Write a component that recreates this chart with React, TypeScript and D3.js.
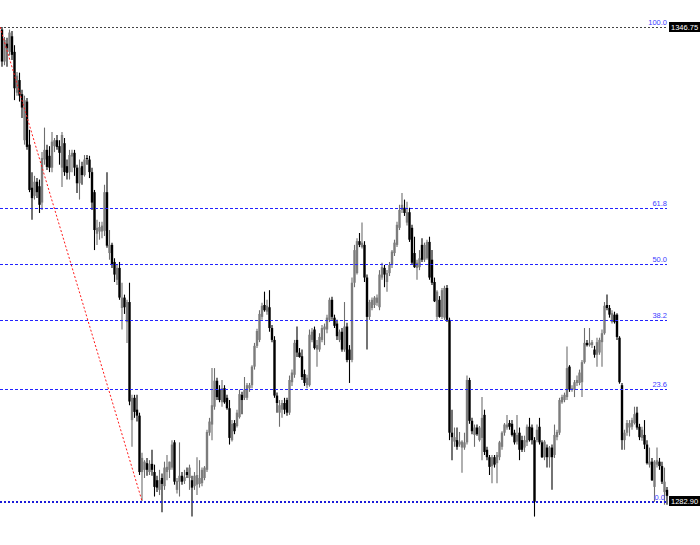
import React from 'react';
import * as d3 from 'd3';

const open = [
1346.4,1342.1,1344.5,1343.4,1345.5,1343.4,1337.9,1339.6,1337.7,1331.5,
1336.7,1330.9,1325.1,1324.0,1325.9,1325.3,1323.1,1328.9,1330.2,1329.4,
1327.8,1330.7,1331.5,1330.7,1327.8,1331.1,1328.0,1327.2,1329.3,1329.8,
1327.8,1325.7,1328.0,1326.8,1329.1,1328.9,1327.2,1324.5,1318.9,1319.2,
1319.2,1319.3,1324.5,1316.3,1317.4,1315.1,1312.7,1314.3,1308.9,1310.3,
1307.0,1309.7,1293.8,1296.8,1295.2,1294.4,1286.8,1287.1,1288.0,1286.8,
1287.9,1286.8,1285.7,1284.4,1286.0,1284.9,1286.8,1287.1,1287.4,1290.8,
1284.4,1285.5,1286.3,1285.6,1286.8,1286.0,1285.7,1284.9,1285.1,1285.2,
1285.3,1286.0,1287.1,1292.1,1293.2,1295.6,1299.1,1297.9,1296.2,1298.1,
1296.8,1295.4,1291.1,1293.4,1293.0,1294.2,1297.2,1296.8,1296.8,1298.1,
1298.5,1301.0,1303.8,1304.6,1307.7,1309.3,1308.4,1309.0,1306.2,1304.6,
1297.1,1294.8,1295.2,1296.1,1296.5,1294.8,1298.9,1299.9,1304.6,1302.9,
1302.4,1300.0,1298.5,1298.5,1304.6,1306.0,1303.3,1303.3,1304.6,1306.0,
1306.0,1307.3,1310.0,1307.6,1306.8,1304.6,1305.7,1303.3,1306.4,1303.3,
1301.9,1312.3,1313.6,1317.9,1317.1,1317.4,1313.0,1307.7,1308.9,1309.3,
1309.6,1309.0,1313.0,1314.3,1312.4,1313.6,1314.7,1316.3,1317.4,1319.7,
1322.1,1322.4,1320.4,1321.8,1319.7,1316.3,1314.3,1314.4,1317.4,1315.4,
1315.6,1317.8,1315.4,1312.4,1307.7,1310.0,1307.7,1307.6,1311.6,1307.3,
1292.1,1290.9,1291.1,1290.5,1290.1,1290.1,1290.8,1299.2,1293.7,1291.8,
1292.8,1291.1,1291.4,1294.5,1289.8,1288.8,1287.6,1288.8,1288.0,1288.8,
1290.2,1292.1,1292.8,1293.4,1293.3,1292.1,1290.9,1292.1,1291.1,1290.1,
1290.8,1292.9,1292.8,1291.1,1291.1,1292.9,1290.8,1288.8,1290.1,1288.8,
1290.1,1289.1,1291.5,1292.1,1296.2,1296.5,1296.9,1301.0,1297.9,1297.9,
1298.8,1298.8,1298.9,1301.6,1304.2,1303.9,1303.9,1303.3,1302.6,1302.9,
1304.3,1305.5,1309.3,1308.9,1307.0,1308.0,1308.0,1304.9,1298.5,1291.1,
1292.1,1292.8,1292.9,1293.4,1294.8,1292.9,1291.4,1291.8,1290.5,1287.8,
1288.2,1284.8,1287.8,1288.2,1287.6,1284.1,1284.4
];
const high = [
1346.75,1345.4,1345.3,1346.4,1346.2,1344.3,1340.7,1340.6,1338.3,1337.5,
1337.2,1332.9,1327.2,1326.7,1326.4,1326.2,1329.9,1333.2,1330.9,1330.7,
1332.6,1331.8,1332.2,1331.5,1332.6,1331.8,1328.9,1330.2,1330.2,1330.2,
1328.2,1328.9,1328.6,1329.5,1329.5,1329.4,1327.8,1324.8,1320.8,1320.5,
1320.5,1325.5,1327.2,1319.4,1317.7,1315.6,1314.7,1315.1,1312.3,1310.7,
1310.0,1312.3,1297.2,1297.2,1297.2,1294.8,1289.4,1288.4,1288.7,1288.4,
1289.8,1287.8,1286.3,1287.1,1286.6,1288.2,1289.1,1288.2,1291.1,1291.1,
1286.0,1290.8,1286.8,1287.1,1287.4,1287.8,1286.3,1286.8,1288.8,1288.4,
1287.4,1287.6,1292.5,1294.1,1300.8,1300.8,1299.5,1298.5,1299.2,1298.5,
1297.2,1296.5,1293.8,1293.8,1295.2,1297.9,1297.6,1299.6,1298.8,1298.8,
1301.2,1304.2,1306.1,1308.6,1309.6,1311.1,1310.0,1311.3,1306.6,1305.1,
1297.5,1296.5,1296.5,1296.8,1296.8,1299.8,1300.6,1304.6,1306.4,1303.5,
1303.3,1300.6,1299.9,1306.0,1306.2,1306.4,1304.6,1305.5,1306.6,1306.8,
1308.0,1310.3,1310.4,1308.0,1307.3,1306.0,1306.2,1309.7,1306.9,1303.9,
1313.0,1317.4,1318.3,1319.0,1320.4,1317.9,1313.4,1310.0,1310.3,1310.5,
1310.7,1314.0,1315.0,1314.7,1314.0,1315.1,1316.7,1318.1,1320.5,1322.8,
1324.4,1323.5,1323.2,1322.4,1320.1,1318.5,1315.4,1316.7,1318.3,1317.7,
1318.1,1318.5,1316.7,1313.0,1311.3,1310.5,1311.6,1311.9,1312.0,1307.6,
1295.2,1292.8,1292.8,1292.2,1291.1,1292.1,1299.8,1299.5,1294.1,1293.2,
1293.2,1293.0,1296.9,1295.2,1290.2,1289.1,1289.1,1289.1,1289.5,1291.0,
1292.3,1293.4,1294.5,1293.8,1293.8,1292.5,1294.5,1292.8,1291.7,1291.7,
1293.2,1294.1,1293.2,1291.5,1293.2,1294.1,1291.1,1291.1,1290.5,1290.3,
1290.5,1293.2,1292.5,1296.8,1297.2,1297.5,1303.7,1301.2,1298.5,1299.2,
1299.8,1300.6,1301.9,1306.2,1304.6,1306.2,1304.6,1303.8,1304.9,1304.9,
1306.0,1309.7,1310.7,1309.3,1308.6,1308.4,1308.2,1305.1,1298.8,1292.5,
1293.8,1293.8,1294.1,1295.6,1295.6,1293.3,1292.9,1293.8,1291.1,1290.1,
1288.7,1288.4,1290.1,1288.7,1288.2,1287.4,1284.8
];
const low = [
1341.4,1341.6,1341.4,1342.9,1342.3,1336.9,1337.5,1336.7,1334.5,1330.9,
1330.2,1324.5,1320.8,1323.5,1323.7,1321.7,1322.1,1328.2,1327.5,1327.2,
1327.2,1329.9,1330.2,1328.2,1325.2,1326.7,1326.2,1326.2,1327.2,1326.7,
1324.4,1323.5,1325.5,1326.6,1328.2,1326.4,1322.1,1316.7,1317.4,1318.1,
1318.3,1318.6,1317.0,1315.4,1314.3,1312.4,1312.0,1310.0,1306.0,1308.1,
1304.2,1295.8,1290.2,1294.1,1293.6,1286.4,1282.90,1286.0,1286.3,1286.4,
1286.3,1283.5,1284.1,1283.7,1281.4,1284.4,1285.7,1286.0,1287.1,1285.1,
1283.9,1283.5,1285.1,1285.2,1286.0,1284.4,1280.8,1284.4,1283.7,1284.7,
1284.9,1285.7,1286.8,1291.7,1291.1,1295.2,1296.5,1296.2,1295.6,1296.0,
1295.2,1290.5,1290.9,1291.9,1292.8,1294.0,1294.6,1296.5,1296.5,1297.6,
1298.1,1300.6,1303.5,1304.3,1307.3,1308.4,1308.0,1305.7,1304.3,1296.8,
1294.8,1292.9,1294.1,1294.6,1294.4,1294.5,1298.4,1299.5,1302.3,1302.2,
1299.2,1298.4,1298.1,1298.3,1304.3,1303.3,1301.0,1303.0,1304.3,1303.9,
1305.5,1307.0,1307.3,1306.2,1304.6,1304.3,1303.0,1303.0,1301.6,1298.8,
1301.6,1311.7,1313.4,1317.1,1316.9,1312.4,1303.3,1307.3,1308.6,1308.9,
1309.2,1308.6,1312.7,1311.7,1311.1,1313.2,1314.3,1315.9,1317.1,1319.4,
1321.7,1321.3,1320.0,1317.8,1314.7,1314.3,1312.7,1314.0,1315.1,1315.1,
1315.4,1312.7,1312.0,1309.7,1307.3,1307.6,1307.4,1307.3,1307.0,1291.1,
1288.4,1290.2,1289.8,1290.2,1286.7,1289.8,1290.5,1293.3,1291.9,1290.2,
1291.7,1290.9,1288.4,1289.1,1288.4,1286.4,1285.3,1287.4,1285.3,1288.4,
1289.8,1291.7,1292.5,1292.5,1291.6,1290.5,1290.5,1288.4,1289.5,1289.5,
1290.3,1290.9,1290.5,1280.8,1290.8,1290.5,1288.7,1288.4,1287.4,1287.4,
1284.4,1288.7,1291.1,1291.8,1296.0,1296.2,1296.5,1297.6,1297.6,1296.9,
1298.4,1298.5,1296.9,1301.4,1303.7,1303.7,1303.5,1302.2,1301.0,1302.6,
1301.0,1305.3,1308.6,1307.6,1306.8,1306.8,1304.6,1298.7,1289.8,1289.8,
1291.7,1291.6,1292.5,1293.2,1292.5,1291.1,1291.0,1289.9,1287.8,1287.4,
1285.6,1282.8,1287.4,1287.1,1285.2,1282.4,1282.4
];
const close = [
1342.1,1345.0,1343.9,1346.0,1343.0,1338.5,1340.2,1337.5,1335.9,1336.9,
1330.6,1324.8,1323.7,1325.9,1324.5,1322.8,1329.1,1330.2,1327.9,1327.8,
1331.3,1331.5,1330.6,1329.8,1332.2,1327.2,1327.1,1329.5,1329.8,1327.8,
1325.7,1327.8,1326.8,1328.9,1329.0,1327.2,1323.1,1319.4,1319.7,1319.8,
1320.0,1324.5,1317.3,1317.4,1314.7,1313.4,1314.3,1310.3,1310.3,1309.0,
1309.7,1296.3,1296.8,1294.9,1294.4,1286.8,1288.7,1288.2,1287.1,1287.9,
1287.1,1284.8,1284.7,1285.7,1285.2,1287.4,1287.5,1288.2,1290.5,1285.5,
1285.6,1286.3,1285.5,1286.1,1286.4,1287.4,1284.7,1286.3,1286.4,1286.0,
1287.1,1287.4,1292.2,1293.6,1295.8,1299.1,1296.9,1296.5,1298.1,1296.2,
1295.4,1291.4,1293.3,1292.3,1294.8,1297.3,1296.5,1297.9,1298.5,1298.5,
1301.0,1303.8,1305.8,1308.1,1309.2,1308.6,1309.2,1306.2,1304.6,1297.1,
1296.1,1295.8,1296.1,1295.2,1294.8,1299.2,1300.2,1304.2,1302.9,1302.3,
1299.6,1298.8,1299.5,1305.3,1305.7,1303.5,1303.9,1305.0,1306.2,1306.4,
1307.6,1310.0,1307.7,1306.5,1305.1,1305.7,1303.3,1306.4,1301.9,1301.9,
1312.3,1316.7,1317.9,1317.4,1317.7,1313.0,1307.7,1309.7,1310.0,1310.3,
1310.3,1313.4,1314.4,1313.4,1313.6,1314.7,1316.5,1317.7,1320.1,1322.1,
1322.8,1321.7,1321.8,1318.1,1315.0,1314.4,1315.0,1315.6,1315.4,1317.4,
1317.8,1313.0,1312.3,1309.8,1311.1,1307.7,1311.3,1311.6,1307.3,1292.1,
1291.5,1291.5,1290.2,1290.9,1290.9,1290.8,1299.2,1293.7,1292.3,1292.8,
1291.9,1292.8,1294.1,1289.5,1288.8,1287.5,1288.8,1287.8,1289.1,1290.8,
1292.1,1293.2,1293.2,1292.9,1291.8,1290.8,1291.8,1289.8,1289.8,1291.1,
1292.9,1291.1,1291.1,1282.8,1292.5,1290.8,1288.8,1290.9,1288.8,1290.1,
1288.8,1291.8,1292.2,1296.5,1296.9,1297.2,1300.8,1297.9,1298.1,1298.9,
1299.2,1300.2,1301.6,1304.2,1303.9,1304.2,1304.3,1302.6,1304.3,1304.6,
1305.5,1309.2,1308.9,1308.0,1308.2,1307.0,1305.0,1298.9,1291.1,1292.1,
1293.4,1293.4,1293.8,1294.6,1292.8,1291.5,1292.5,1290.5,1288.0,1288.2,
1285.7,1288.2,1288.4,1287.6,1285.5,1285.5,1283.6
];

const fibHigh = 1346.75;
const fibLow = 1282.9;
const fibLevels = [0, 23.6, 38.2, 50, 61.8, 100];
const fibLabels = ['0.0', '23.6', '38.2', '50.0', '61.8', '100.0'];
const priceTags = ['1346.75', '1282.90'];
const trendStartIndex = -0.8;
const trendEndIndex = 56;

export default function App() {
  const W = 700;
  const H = 545;
  const n = close.length;
  const x = d3.scaleLinear().domain([0, n - 1]).range([2, 667]);
  const y = d3.scaleLinear().domain([fibLow, fibHigh]).range([501, 27]);
  const bodyW = 2.4;
  const font = 'Liberation Sans, Arial, sans-serif';

  const candles = d3.range(n).map((i) => {
    const o = open[i], c = close[i], h = high[i], l = low[i];
    const bull = c >= o;
    const cx = x(i);
    const top = y(Math.max(o, c));
    const bot = y(Math.min(o, c));
    return (
      <g key={i}>
        <line x1={cx} x2={cx} y1={y(h)} y2={y(l)} stroke={bull ? '#6e6e6e' : '#000'} strokeWidth={1.1} />
        <rect x={cx - bodyW / 2} y={top} width={bodyW} height={Math.max(1, bot - top)} fill={bull ? '#7c7c7c' : '#000'} />
      </g>
    );
  });

  const levelY = (lv: number) => Math.round(y(fibLow + (fibHigh - fibLow) * lv / 100));

  return (
    <svg width={W} height={H} style={{ position: 'absolute', left: 0, top: 0, background: '#fff' }}>
      <rect x={0} y={0} width={W} height={H} fill="#ffffff" />
      {candles}
      {fibLevels.map((lv, k) => {
        const yy = levelY(lv);
        if (lv === 100) {
          return (
            <g key={k}>
              <line x1={0} x2={668} y1={yy + 0.5} y2={yy + 0.5} stroke="#444" strokeWidth={1} strokeDasharray="2,2" />
              <text x={667} y={yy - 2} textAnchor="end" fontSize={7.5} fontFamily={font} fill="#3c3cff">{fibLabels[k]}</text>
            </g>
          );
        }
        if (lv === 0) {
          return (
            <g key={k}>
              <line x1={0} x2={668} y1={yy + 1} y2={yy + 1} stroke="#1c1cd8" strokeWidth={2} strokeDasharray="2,2" />
              <text x={665} y={yy - 1} textAnchor="end" fontSize={7.5} fontFamily={font} fill="#3c3cff">{fibLabels[k]}</text>
            </g>
          );
        }
        return (
          <g key={k}>
            <line x1={0} x2={667} y1={yy + 0.5} y2={yy + 0.5} stroke="#2222ff" strokeWidth={1} strokeDasharray="3,2" />
            <text x={667} y={yy - 2} textAnchor="end" fontSize={7.5} fontFamily={font} fill="#3c3cff">{fibLabels[k]}</text>
          </g>
        );
      })}
      <line
        x1={x(trendStartIndex)} y1={y(fibHigh)}
        x2={x(trendEndIndex)} y2={y(fibLow)}
        stroke="#ff1a1a" strokeWidth={1} strokeDasharray="2,2"
      />
      {[fibHigh, fibLow].map((p, k) => {
        const yy = y(p);
        return (
          <g key={'tag' + k}>
            <rect x={669} y={yy - 5} width={31} height={10} fill="#000" />
            <text x={671} y={yy + 3} fontSize={7.5} fontFamily={font} fill="#fff">{priceTags[k]}</text>
          </g>
        );
      })}
    </svg>
  );
}
